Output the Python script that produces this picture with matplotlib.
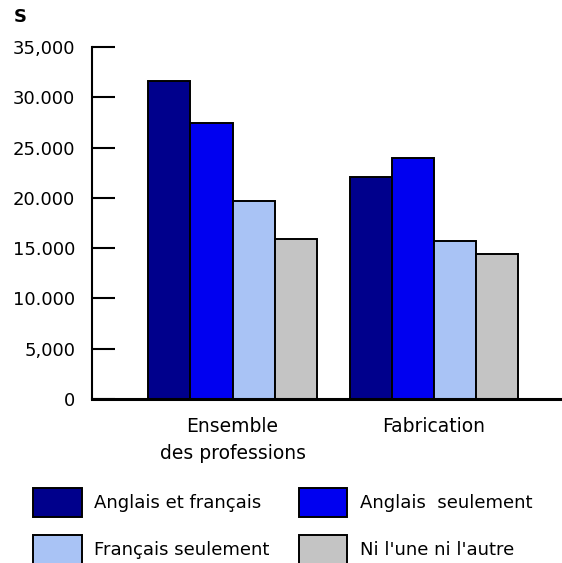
import numpy as np
import matplotlib.pyplot as plt
from matplotlib.ticker import FixedLocator

# Data
categories = ['Ensemble\ndes professions', 'Fabrication']
series_names = ['Anglais et français', 'Anglais  seulement',
                'Français seulement', "Ni l'une ni l'autre"]
anglais_francais = [31600, 22100]
anglais_seul = [27400, 24000]
francais_seul = [19700, 15700]
ni_lun_ni_lautre = [15900, 14400]
y_ticks = [0, 5000, 10000, 15000, 20000, 25000, 30000, 35000]
y_tick_labels = ['0', '5,000', '10.000', '15.000', '20.000', '25.000', '30.000', '35,000']

colors = ['#00008C', '#0000F0', '#A9C3F5', '#C4C4C4']
series = [anglais_francais, anglais_seul, francais_seul, ni_lun_ni_lautre]

plt.rcParams['font.family'] = ['DejaVu Sans']

fig = plt.figure(figsize=(5.62, 5.63), dpi=100)
ax = fig.add_axes([0.1637, 0.2913, 0.8327, 0.6252])

x = np.arange(len(categories))
width = 0.209
bars = []
for i, (vals, col, name) in enumerate(zip(series, colors, series_names)):
    b = ax.bar(x + (i - 1.5) * width, vals, width, color=col, edgecolor='black',
               linewidth=1.4, label=name, zorder=2)
    bars.append(b)

ax.set_xlim(-0.699, 1.629)
ax.set_ylim(0, 35000)

ax.yaxis.set_major_locator(FixedLocator(y_ticks))
ax.set_yticklabels(y_tick_labels)
ax.tick_params(axis='y', direction='in', length=16.5, width=1.5, pad=12,
               labelsize=13, colors='black')
ax.set_xticks(x)
ax.set_xticklabels(categories, fontsize=13.5, linespacing=1.5)
ax.tick_params(axis='x', length=0, pad=13)

for s in ['top', 'right']:
    ax.spines[s].set_visible(False)
ax.spines['left'].set_linewidth(1.5)
ax.spines['bottom'].set_linewidth(2.2)

fig.text(14 / 562, 1 - 22 / 563, 'S', fontsize=13, fontweight='bold')

# legend fills column-wise, so reorder to read row by row
order = [0, 2, 1, 3]
fig.legend([bars[i] for i in order], [series_names[i] for i in order],
           loc='upper left', bbox_to_anchor=(33 / 562, 1 - 488 / 563),
           ncol=2, frameon=False, fontsize=13, borderpad=0, borderaxespad=0,
           handlelength=2.7, handleheight=2.1, handletextpad=0.7,
           columnspacing=1.6, labelspacing=1.0)

fig.savefig('out.png', dpi=100)
